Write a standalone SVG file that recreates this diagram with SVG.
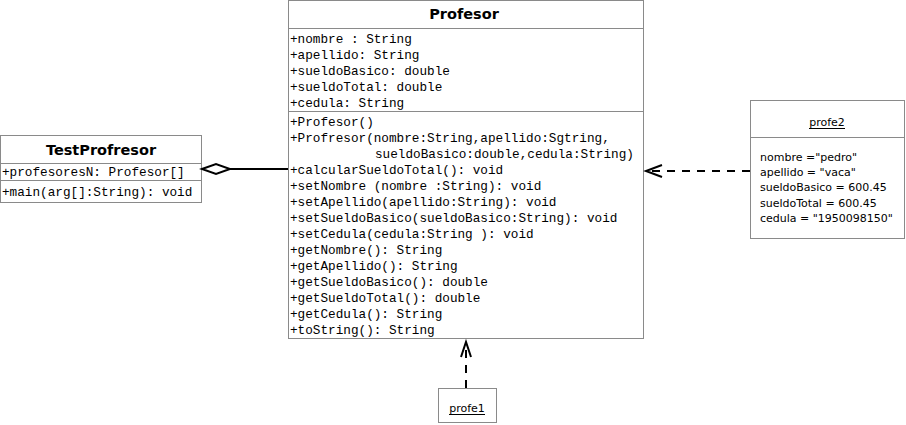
<svg xmlns="http://www.w3.org/2000/svg" width="906" height="425" viewBox="0 0 906 425">
<style>
.box{fill:#fff;stroke:#8a8a8a;stroke-width:1}
.div{stroke:#8a8a8a;stroke-width:1}
.title{font-family:"DejaVu Sans",Verdana,sans-serif;font-weight:bold;font-size:14.5px;fill:#000;text-anchor:middle}
.mono{font-family:"Liberation Mono","Courier New",monospace;font-size:12.7px;fill:#000}
.obj{font-family:"DejaVu Sans",Tahoma,sans-serif;font-size:11px;fill:#000}
.objt{font-family:"DejaVu Sans",Tahoma,sans-serif;font-size:11px;fill:#000;text-anchor:middle}
.ul{stroke:#000;stroke-width:1}
.dash{fill:none;stroke:#000;stroke-width:2;stroke-dasharray:8,7}
.head{fill:none;stroke:#000;stroke-width:2}
</style>
<rect width="906" height="425" fill="#fff"/>
<g id="Profesor">
<rect class="box" x="288.5" y="0.5" width="355" height="338"/>
<line class="div" x1="288.5" y1="28.5" x2="643.5" y2="28.5"/>
<line class="div" x1="288.5" y1="111.5" x2="643.5" y2="111.5"/>
<text class="title" x="464" y="19">Profesor</text>
<text class="mono" x="290" y="43">+nombre : String</text>
<text class="mono" x="290" y="59">+apellido: String</text>
<text class="mono" x="290" y="75">+sueldoBasico: double</text>
<text class="mono" x="290" y="91">+sueldoTotal: double</text>
<text class="mono" x="290" y="107">+cedula: String</text>
<text class="mono" x="290" y="126">+Profesor()</text>
<text class="mono" x="290" y="142">+Profresor(nombre:String,apellido:Sgtring,</text>
<text class="mono" x="375" y="158">sueldoBasico:double,cedula:String)</text>
<text class="mono" x="290" y="174">+calcularSueldoTotal(): void</text>
<text class="mono" x="290" y="190">+setNombre (nombre :String): void</text>
<text class="mono" x="290" y="206">+setApellido(apellido:String): void</text>
<text class="mono" x="290" y="222">+setSueldoBasico(sueldoBasico:String): void</text>
<text class="mono" x="290" y="238">+setCedula(cedula:String ): void</text>
<text class="mono" x="290" y="254">+getNombre(): String</text>
<text class="mono" x="290" y="270">+getApellido(): String</text>
<text class="mono" x="290" y="286">+getSueldoBasico(): double</text>
<text class="mono" x="290" y="302">+getSueldoTotal(): double</text>
<text class="mono" x="290" y="318">+getCedula(): String</text>
<text class="mono" x="290" y="334">+toString(): String</text>
</g>
<g id="TestProfresor">
<rect class="box" x="0.5" y="135.5" width="201" height="67"/>
<line class="div" x1="0.5" y1="163.5" x2="201.5" y2="163.5"/>
<line class="div" x1="0.5" y1="180.5" x2="201.5" y2="180.5"/>
<text class="title" x="101" y="155">TestProfresor</text>
<text class="mono" x="2" y="176">+profesoresN: Profesor[]</text>
<text class="mono" x="2" y="196">+main(arg[]:String): void</text>
</g>
<g id="profe2">
<rect class="box" x="750.5" y="100.5" width="154" height="138"/>
<line class="div" x1="750.5" y1="137.5" x2="904.5" y2="137.5"/>
<text class="objt" x="827" y="126">profe2</text>
<line class="ul" x1="809" y1="128.5" x2="845" y2="128.5"/>
<text class="obj" x="760" y="161">nombre ="pedro"</text>
<text class="obj" x="760" y="176">apellido = "vaca"</text>
<text class="obj" x="760" y="191">sueldoBasico = 600.45</text>
<text class="obj" x="760" y="207">sueldoTotal = 600.45</text>
<text class="obj" x="760" y="222">cedula = "1950098150"</text>
</g>
<g id="profe1">
<rect class="box" x="438.5" y="388.5" width="58" height="34"/>
<text class="objt" x="467" y="412">profe1</text>
<line class="ul" x1="449" y1="414.5" x2="485" y2="414.5"/>
</g>
<g id="connectors">
<line x1="230" y1="169" x2="288" y2="169" stroke="#000" stroke-width="2"/>
<polygon points="202,169 216,164 230,169 216,174" fill="#fff" stroke="#000" stroke-width="2"/>
<path class="dash" d="M750,171 L648,171"/>
<polyline class="head" points="662,165 646,171 662,177"/>
<path class="dash" d="M466,388 L466,343"/>
<polyline class="head" points="461,357 466,342 471,357"/>
</g>
</svg>
